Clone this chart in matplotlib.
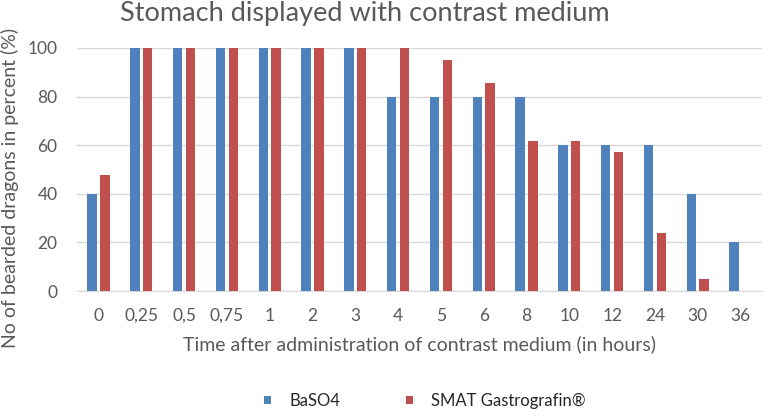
import matplotlib
matplotlib.use("Agg")
import matplotlib.pyplot as plt
import numpy as np

categories = ["0", "0,25", "0,5", "0,75", "1", "2", "3", "4", "5", "6", "8", "10", "12", "24", "30", "36"]
baso4 = [40, 100, 100, 100, 100, 100, 100, 80, 80, 80, 80, 60, 60, 60, 40, 20]
gastro = [47.6, 100, 100, 100, 100, 100, 100, 100, 95.2, 85.7, 61.9, 61.9, 57.1, 23.8, 4.8, 0]
series_names = ["BaSO4", "SMAT Gastrografin®"]
yticks = [0, 20, 40, 60, 80, 100]

plt.rcParams['font.family'] = ['Lato', 'DejaVu Sans']
text_col = "#595959"

fig = plt.figure(figsize=(7.65, 4.12), dpi=100)
ax = fig.add_axes([77/765, 1-291/412, (762-77)/765, (291-48)/412])

x = np.arange(len(categories))
w = 0.22
off = 0.15
ax.bar(x - off, baso4, w, color="#4f81bd", label=series_names[0], zorder=3)
ax.bar(x + off, gastro, w, color="#c0504d", label=series_names[1], zorder=3)

ax.set_xlim(-0.5, len(categories) - 0.5)
ax.set_ylim(0, 100)
ax.set_yticks(yticks)
ax.set_xticks(x)
ax.set_xticklabels(categories)
ax.grid(axis="y", color="#d9d9d9", linewidth=1, zorder=0)
for s in ["top", "right", "left"]:
    ax.spines[s].set_visible(False)
ax.spines["bottom"].set_color("#d9d9d9")
ax.tick_params(axis="both", length=0, labelsize=12.5, colors=text_col)
ax.tick_params(axis="y", pad=14)
ax.tick_params(axis="x", pad=12)

ax.set_ylabel("No of bearded dragons in percent (%)", fontsize=14, color=text_col)
ax.yaxis.set_label_coords((19-77)/685, (291-188)/243)
ax.set_xlabel("Time after administration of contrast medium (in hours)", fontsize=14, color=text_col, labelpad=8)
fig.text(365/765, 1-14/412, "Stomach displayed with contrast medium", fontsize=19.5, color=text_col,
         ha="center", va="center")

leg = fig.legend(loc="center", bbox_to_anchor=(425/765, 1-401/412), ncol=2, frameon=False,
                 fontsize=12, handlelength=0.42, handleheight=0.42, columnspacing=3.9, handletextpad=1.1)
for t in leg.get_texts():
    t.set_color("#262626")

fig.savefig("out.png", dpi=100)
